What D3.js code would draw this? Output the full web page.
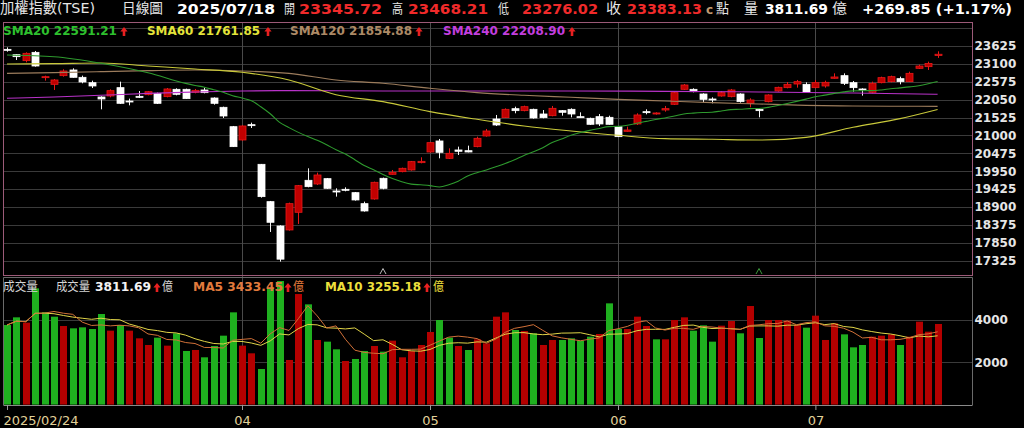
<!DOCTYPE html>
<html><head><meta charset="utf-8">
<script src="https://cdn.jsdelivr.net/npm/d3@7"></script>
<style>html,body{margin:0;padding:0;background:#000;overflow:hidden}</style>
</head><body><svg id="c" width="1024" height="428"></svg>
<script>
const dates = [
"2025/02/24","2025/02/25","2025/02/26","2025/02/27",
"2025/03/03","2025/03/04","2025/03/05","2025/03/06","2025/03/07","2025/03/10","2025/03/11","2025/03/12","2025/03/13","2025/03/14","2025/03/17","2025/03/18","2025/03/19","2025/03/20","2025/03/21","2025/03/24","2025/03/25","2025/03/26","2025/03/27","2025/03/28","2025/03/31",
"2025/04/01","2025/04/02","2025/04/07","2025/04/08","2025/04/09","2025/04/10","2025/04/11","2025/04/14","2025/04/15","2025/04/16","2025/04/17","2025/04/18","2025/04/21","2025/04/22","2025/04/23","2025/04/24","2025/04/25","2025/04/28","2025/04/29","2025/04/30",
"2025/05/02","2025/05/05","2025/05/06","2025/05/07","2025/05/08","2025/05/09","2025/05/12","2025/05/13","2025/05/14","2025/05/15","2025/05/16","2025/05/19","2025/05/20","2025/05/21","2025/05/22","2025/05/23","2025/05/26","2025/05/27","2025/05/28","2025/05/29",
"2025/06/02","2025/06/03","2025/06/04","2025/06/05","2025/06/06","2025/06/09","2025/06/10","2025/06/11","2025/06/12","2025/06/13","2025/06/16","2025/06/17","2025/06/18","2025/06/19","2025/06/20","2025/06/23","2025/06/24","2025/06/25","2025/06/26","2025/06/27","2025/06/30",
"2025/07/01","2025/07/02","2025/07/03","2025/07/04","2025/07/07","2025/07/08","2025/07/09","2025/07/10","2025/07/11","2025/07/14","2025/07/15","2025/07/16","2025/07/17","2025/07/18"];
const open = [23527,23371,23195,23439,22696,22500,22755,22921,22706,22549,22129,22158,22403,22011,22148,22197,22236,22139,22354,22354,22266,22334,22099,21826,21258,20867,21317,20153,19058,18344,18227,18745,19684,19576,19733,19371,19420,19322,18999,19136,19743,19860,19938,19987,20202,20515,20838,20329,20574,20554,20672,20985,21483,21523,21786,21728,21767,21630,21581,21728,21767,21552,21503,21552,21532,21258,21121,21337,21699,21630,21747,21914,22354,22354,22217,22070,22158,22139,22217,21943,21767,21992,22305,22403,22510,22500,22403,22452,22677,22755,22549,22364,22266,22549,22579,22667,22579,22970,23019,23345.72];
const high = [23586,23390,23439,23478,22755,22657,22941,22970,22755,22608,22148,22354,22579,22080,22305,22305,22256,22393,22383,22373,22364,22403,22119,21845,21278,21298,21376,20163,19078,18364,19029,19547,20036,19909,19752,19449,19478,19341,19058,19645,19762,19987,20056,20251,20359,20808,20897,20623,20672,20701,20965,21190,21601,21796,21845,21875,21786,21747,21865,21747,21796,21679,21523,21630,21581,21278,21258,21650,21767,21679,21865,22276,22510,22383,22236,22119,22305,22364,22236,22090,21786,22207,22432,22569,22628,22559,22628,22608,22823,22823,22598,22383,22579,22725,22755,22725,22872,23077,23166,23468.21];
const low = [23459,23214,23146,23019,22608,22334,22725,22696,22530,22393,21767,22119,21923,21884,22099,22178,21923,22119,22178,22070,22236,22236,21904,21513,20662,20848,21219,19175,18168,17298,18207,18403,19478,19547,19430,19205,19361,19087,18765,19117,19420,19850,19919,19968,20183,20496,20329,20310,20427,20505,20652,20965,21278,21513,21650,21708,21493,21503,21562,21581,21532,21523,21307,21278,21317,20955,21112,21307,21620,21611,21699,21894,22334,22266,21972,21943,22139,22119,21963,21826,21532,21972,22285,22383,22403,22256,22383,22403,22667,22481,22285,22168,22236,22530,22559,22500,22569,22950,22921,23276.02];
const close = [23518,23312,23410,23038,22725,22628,22892,22706,22569,22452,22070,22315,21943,21982,22119,22285,21943,22364,22207,22080,22324,22256,21943,21571,20672,21278,21288,19205,18452,17370,18999,19527,19498,19840,19449,19341,19390,19107,18784,19625,19449,19919,20036,20232,20241,20789,20505,20476,20535,20515,20916,21131,21307,21767,21728,21845,21513,21523,21796,21679,21630,21532,21327,21337,21327,20965,21161,21601,21669,21660,21787,22256,22481,22285,22060,22041,22256,22334,21992,22041,21728,22188,22412,22500,22579,22275,22549,22559,22716,22530,22403,22334,22530,22696,22725,22579,22823,23038,23113.28,23383.13];
const prevClose = 23730;
const volume = [3763,4126,3874,5496,4362,4157,3716,3606,3653,3574,4283,3496,3763,3496,3133,2818,3165,2787,3370,2535,2582,2236,2771,3259,4362,2787,2425,1684,5464,5842,2110,5228,4740,3055,2976,2614,2062,2157,2535,2771,2503,3023,2236,2535,2818,3433,4000,3165,2771,2582,3086,2897,4157,4362,3527,3480,3370,2818,3055,3055,3133,3023,3212,3338,4787,3574,3574,4157,3716,3086,3086,4000,4126,3496,3748,2976,3732,3952,3370,4661,3149,4000,4000,3968,3763,3637,4204,3055,3842,3322,2708,2818,3212,3259,3322,2818,3212,3921,3448,3811.69];
// moving averages: [day index, value]
const sma20Head = [[0,23360],[5,23310],[10,23120],[15,22840]];
const sma60 = [[0,23097],[5,23107],[10,23126],[15,23038],[20,22950],[25,22853],[30,22628],[35,22197],[40,21992],[45,21699],[50,21474],[55,21278],[60,21131],[65,21004],[70,20906],[75,20887],[80,20867],[85,20945],[90,21239],[95,21493],[99,21761.85]];
const sma120 = [[0,22823],[5,22843],[10,22872],[15,22901],[20,22921],[25,22892],[30,22823],[35,22628],[40,22530],[45,22383],[50,22256],[55,22178],[60,22119],[65,22060],[70,22012],[75,21963],[80,21924],[85,21884],[90,21865],[95,21855],[99,21854.88]];
const sma240 = [[0,22090],[5,22129],[10,22178],[15,22236],[20,22276],[25,22305],[30,22315],[40,22305],[50,22305],[60,22305],[70,22295],[80,22276],[90,22246],[99,22208.90]];
const maLegendNames = ["SMA20","SMA60","SMA120","SMA240"];
const maLegendValues = [22591.21, 21761.85, 21854.88, 22208.90];
const volMaNames = ["MA5","MA10"];
const volMaValues = [3433.45, 3255.18];
const priceTicks = [23625,23100,22575,22050,21525,21000,20475,19950,19425,18900,18375,17850,17325];
const priceGridTop = [24150];
const volTicks = [4000,2000];
const timeTicks = ["2025/02/24","2025/04/01","2025/05/02","2025/06/02","2025/07/01"];
const timeLabels = ["2025/02/24","04","05","06","07"];
const markerDays = ["2025/04/24","2025/06/23"];

const F = "'DejaVu Sans','Noto Sans CJK TC',sans-serif";
const svg = d3.select("#c");
svg.append("rect").attr("width",1024).attr("height",428).attr("fill","#000");

const P = {x0:3.5, x1:972.5, y0:22.5, y1:275.5};
const V = {y0:277.5, y1:405};
const x = d3.scalePoint().domain(dates).range([7, 937.6]);
const yP = d3.scaleLinear().domain([17325, 23625]).range([260.7, 46]);
const yV = d3.scaleLinear().domain([0, 4000]).range([404.6, 320]);
const GRID = "#3a3a3a";

// grids
svg.append("g").selectAll("line").data(priceGridTop.concat(priceTicks)).join("line")
  .attr("x1",P.x0).attr("x2",P.x1).attr("y1",d=>Math.round(yP(d))+0.5).attr("y2",d=>Math.round(yP(d))+0.5)
  .attr("stroke",GRID);
svg.append("g").selectAll("line").data(volTicks).join("line")
  .attr("x1",P.x0).attr("x2",P.x1).attr("y1",d=>Math.round(yV(d))+0.5).attr("y2",d=>Math.round(yV(d))+0.5)
  .attr("stroke",GRID);
svg.append("g").selectAll("line").data(timeTicks.slice(1)).join("line")
  .attr("x1",d=>Math.round(x(d))+0.5).attr("x2",d=>Math.round(x(d))+0.5).attr("y1",P.y0).attr("y2",V.y1)
  .attr("stroke","#4a4a4a");

// panel borders
svg.append("rect").attr("x",P.x0).attr("y",P.y0).attr("width",P.x1-P.x0).attr("height",P.y1-P.y0)
  .attr("fill","none").attr("stroke","#9c5a78");
svg.append("line").attr("x1",P.x0).attr("x2",P.x1).attr("y1",V.y0).attr("y2",V.y0).attr("stroke","#6a6a6a");
svg.append("line").attr("x1",P.x0).attr("x2",P.x0).attr("y1",V.y0).attr("y2",V.y1).attr("stroke","#6a6a6a");
svg.append("line").attr("x1",P.x1).attr("x2",P.x1).attr("y1",V.y0).attr("y2",V.y1).attr("stroke","#6a6a6a");

// axes
const ax = svg.append("g").attr("transform",`translate(${P.x1+1},0)`)
  .call(d3.axisRight(yP).tickValues(priceTicks).tickSize(0).tickPadding(1).tickFormat(d3.format("d")));
ax.select(".domain").remove();
ax.selectAll("text").attr("font-family",F).attr("font-size",12).attr("font-weight","bold").attr("fill","#e6e6e6");
const av = svg.append("g").attr("transform",`translate(${P.x1+1},0)`)
  .call(d3.axisRight(yV).tickValues(volTicks).tickSize(0).tickPadding(1).tickFormat(d3.format("d")));
av.select(".domain").remove();
av.selectAll("text").attr("font-family",F).attr("font-size",12).attr("font-weight","bold").attr("fill","#e6e6e6");
const axb = svg.append("g").attr("transform",`translate(0,${V.y1})`)
  .call(d3.axisBottom(x).tickValues(timeTicks).tickSize(5).tickPadding(6).tickFormat((d,i)=>timeLabels[i]));
axb.select(".domain").attr("stroke","#8a8a8a").attr("d",`M${P.x0},0.5H${P.x1}`);
axb.selectAll("line").attr("stroke","#9a9a9a");
axb.selectAll("text").attr("font-family",F).attr("font-size",13).attr("fill","#e2d29a");
axb.selectAll(".tick").filter((d,i)=>i===0).select("text").attr("text-anchor","start").attr("dx",-4);

// candles
const clip = svg.append("clipPath").attr("id","pc").append("rect")
  .attr("x",P.x0).attr("y",P.y0).attr("width",P.x1-P.x0).attr("height",P.y1-P.y0);
const cg = svg.append("g").attr("clip-path","url(#pc)");
const idx = d3.range(dates.length);
const RED="#c00000", REDL="#e81818";
cg.selectAll("line.w").data(idx).join("line").attr("class","w")
  .attr("x1",i=>Math.round(x(dates[i]))+0.5).attr("x2",i=>Math.round(x(dates[i]))+0.5)
  .attr("y1",i=>yP(high[i])).attr("y2",i=>yP(low[i]))
  .attr("stroke",i=>close[i]>=open[i]?REDL:"#f4f4f4");
cg.selectAll("rect.b").data(idx).join("rect").attr("class","b")
  .attr("x",i=>Math.round(x(dates[i]))-3)
  .attr("y",i=>yP(Math.max(open[i],close[i])))
  .attr("width",7)
  .attr("height",i=>Math.max(1,yP(Math.min(open[i],close[i]))-yP(Math.max(open[i],close[i]))))
  .attr("fill",i=>close[i]>=open[i]?RED:"#ffffff")
  .attr("stroke",i=>close[i]>=open[i]?REDL:"#ffffff").attr("stroke-width",0.8);

// moving average lines
const sma20 = sma20Head.concat(d3.range(19, close.length).map(i=>[i, d3.mean(close.slice(i-19,i+1))]));
const line = d3.line().x(d=>x(dates[d[0]])).y(d=>yP(d[1])).curve(d3.curveMonotoneX);
[[sma240,"#b832c8"],[sma120,"#9c7c5c"],[sma60,"#c8c83a"],[sma20,"#2e9a2e"]].forEach(([data,col])=>{
  cg.append("path").datum(data).attr("d",line).attr("fill","none").attr("stroke",col).attr("stroke-width",1.1);
});

// volume bars
const vg = svg.append("g");
vg.selectAll("rect").data(idx).join("rect")
  .attr("x",i=>Math.round(x(dates[i]))-3).attr("width",7)
  .attr("y",i=>yV(volume[i])).attr("height",i=>yV(0)-yV(volume[i]))
  .attr("fill",i=>close[i]>=(i?close[i-1]:prevClose)?"#b40000":"#1fb01f");
const vma = n => idx.map(i=>[i, d3.mean(volume.slice(Math.max(0,i-n+1), i+1))]);
const vline = d3.line().x(d=>x(dates[d[0]])).y(d=>yV(d[1]));
vg.append("path").datum(vma(10)).attr("d",vline).attr("fill","none").attr("stroke","#e0d448").attr("stroke-width",1);
vg.append("path").datum(vma(5)).attr("d",vline).attr("fill","none").attr("stroke","#d07038").attr("stroke-width",1);

// markers
svg.selectAll("path.mk").data(markerDays).join("path").attr("class","mk")
  .attr("d",d=>{const cx=x(d);return `M${cx-3},274L${cx},268.5L${cx+3},274`;})
  .attr("fill","none").attr("stroke",(d,i)=>i?"#3c9a3c":"#bbbbbb").attr("stroke-width",1);

// text helpers
function T(s, tx, ty, o={}) {
  const t = svg.append("text").attr("x",tx).attr("y",ty).text(s)
    .attr("font-family",F).attr("font-size",o.fs||12)
    .attr("font-weight",o.fw||"normal").attr("fill",o.c||"#e6e6e6");
  if (o.w) t.attr("textLength",o.w).attr("lengthAdjust","spacingAndGlyphs");
  return t;
}
function arrow(cx, top, h) {
  svg.append("path").attr("d",`M${cx},${top}L${cx+3.6},${top+4.6}L${cx+1.3},${top+4.6}L${cx+1.3},${top+h}L${cx-1.3},${top+h}L${cx-1.3},${top+4.6}L${cx-3.6},${top+4.6}Z`)
    .attr("fill","#e82020");
}
const f2 = d3.format(".2f");
const last = close.length-1;
const chg = close[last]-close[last-1];
// header
T("加權指數(TSE)",0,13,{fs:14.5,w:95});
T("日線圖",122,13,{fs:14,w:41});
T(dates[last],177,13.5,{fs:13.5,fw:"bold",c:"#ffffff",w:98});
T("開",284,13,{fs:13,w:11});
T(f2(open[last]),299,13.5,{fs:13.5,fw:"bold",c:"#f02a2a",w:83});
T("高",392,13,{fs:13,w:11});
T(f2(high[last]),408,13.5,{fs:13.5,fw:"bold",c:"#f02a2a",w:80});
T("低",498,13,{fs:13,w:11});
T(f2(low[last]),522,13.5,{fs:13.5,fw:"bold",c:"#f02a2a",w:76});
T("收",606,13,{fs:14,w:15});
T(f2(close[last]),627,13.5,{fs:13.5,fw:"bold",c:"#f02a2a",w:75});
T("c",706,13.5,{fs:12,fw:"bold",c:"#c09a70"});
T("點",716,13,{fs:14,w:13});
T("量",744,13,{fs:14,w:14});
T(f2(volume[last]),765,13.5,{fs:13.5,fw:"bold",c:"#ffffff",w:63});
T("億",832,13,{fs:14,w:15});
T(`${chg>=0?"+":""}${f2(chg)} (${chg>=0?"+":""}${f2(chg/close[last-1]*100)}%)`,862,13.5,{fs:13.5,fw:"bold",c:"#ffffff",w:150});

// MA legend
const maCols = ["#2ec02e","#e4e43a","#ad8a66","#c23ede"];
const maX = [3,147,290,443], maW=[114,113,122,122], maA=[124,268,419,572];
maLegendNames.forEach((n,i)=>{
  T(`${n} ${f2(maLegendValues[i])}`,maX[i],35,{fw:"bold",c:maCols[i],w:maW[i]});
  arrow(maA[i],27,9);
});

// volume legend
T("成交量",3,291,{fs:12.5,c:"#d4d4d4",w:35});
T("成交量",56,291,{fs:12.5,c:"#d4d4d4",w:34});
T(f2(volume[last]),95,291.3,{fw:"bold",c:"#f2f2f2",w:56});
arrow(157,283,9);
T("億",162,291,{fs:12.5,c:"#d4d4d4",w:11});
T(`${volMaNames[0]} ${f2(volMaValues[0])}`,193,291.3,{fw:"bold",c:"#e27a3c",w:90});
arrow(288,283,9);
T("億",293,291,{fs:12.5,c:"#e27a3c",w:11});
T(`${volMaNames[1]} ${f2(volMaValues[1])}`,325,291.3,{fw:"bold",c:"#ecdf3c",w:96});
arrow(427,283,9);
T("億",433,291,{fs:12.5,c:"#ecdf3c",w:11});
</script></body></html>
